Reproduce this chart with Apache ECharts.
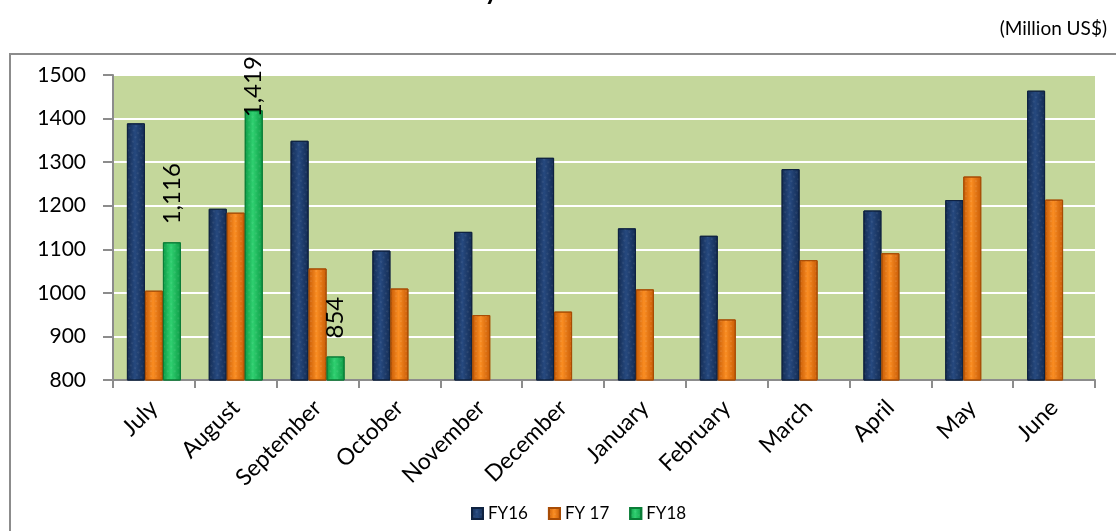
<!DOCTYPE html>
<html>
<head>
<meta charset="utf-8">
<script src="https://cdn.jsdelivr.net/npm/echarts@6/dist/echarts.min.js"></script>
<style>
html,body{margin:0;padding:0;background:#fff;}
#main{width:1116px;height:531px;}
</style>
</head>
<body>
<div id="main"></div>
<script>
const categories = ['July','August','September','October','November','December','January','February','March','April','May','June'];
const fy16 = [1389,1193,1349,1097,1140,1310,1148,1131,1284,1189,1213,1464];
const fy17 = [1005,1184,1056,1010,949,957,1008,939,1075,1091,1267,1214];
const fy18 = [1116,1419,854,null,null,null,null,null,null,null,null,null];
const seriesNames = ['FY16','FY 17','FY18'];
const titleText = "Trend of Monthly Workers' Remittances";
const unitText = '(Million US$)';

const FONT = 'Lato, "Open Sans", sans-serif';

function grad(edge, mid) {
  return new echarts.graphic.LinearGradient(0,0,1,0,[
    {offset:0,color:edge},{offset:0.45,color:mid},{offset:1,color:edge}
  ]);
}
const dec = {symbol:'circle', symbolSize:0.6, color:'rgba(255,255,255,0.28)', dashArrayX:[2,3], dashArrayY:[2,3]};

const chart = echarts.init(document.getElementById('main'));
chart.setOption({
  animation:false,
  aria:{enabled:true, decal:{show:true}},
  title:[
    {text:titleText, left:293, top:-26, textStyle:{fontFamily:FONT, fontSize:26, fontWeight:'bold', color:'#000'}},
    {text:unitText, right:4, top:14, textStyle:{fontFamily:FONT, fontSize:19, fontWeight:'normal', color:'#000'}}
  ],
  graphic:[{type:'rect', shape:{x:10,y:54,width:1130,height:500}, style:{fill:null, stroke:'#8c8c8c', lineWidth:2}, silent:true, z:-1}],
  grid:{left:113, right:21, top:75, bottom:151, show:true, backgroundColor:'#c4d79b', borderWidth:0},
  legend:{
    bottom:4, left:466, itemWidth:11, itemHeight:11, itemGap:20, icon:'rect',
    textStyle:{fontFamily:FONT, fontSize:17, color:'#000'},
    data:seriesNames
  },
  xAxis:{
    type:'category', data:categories,
    axisLine:{lineStyle:{color:'#8c8c8c', width:2}},
    axisTick:{show:true, length:8, lineStyle:{color:'#8c8c8c', width:2}},
    axisLabel:{rotate:45, fontFamily:FONT, fontSize:23, color:'#000', margin:24, interval:0}
  },
  yAxis:{
    type:'value', min:800, max:1500, interval:100,
    axisLine:{show:true, lineStyle:{color:'#8c8c8c', width:2}},
    axisTick:{show:true, length:10, lineStyle:{color:'#8c8c8c', width:2}},
    axisLabel:{fontFamily:FONT, fontSize:21, color:'#000', margin:27, formatter:v=>String(v)},
    splitLine:{lineStyle:{color:'#ffffff', width:2}}
  },
  series:[
    {name:seriesNames[0], type:'bar', data:fy16, barWidth:18, barGap:'0%',
     itemStyle:{color:grad('#132b52','#26497f'), borderColor:'#0f2240', borderWidth:1, decal:dec}},
    {name:seriesNames[1], type:'bar', data:fy17, barWidth:18, barGap:'0%',
     itemStyle:{color:grad('#c75b06','#fa8d22'), borderColor:'#a84c05', borderWidth:1, decal:dec}},
    {name:seriesNames[2], type:'bar', data:fy18.map((v,i)=> i===1 ? {value:v, label:{distance:-7}} : v), barWidth:18, barGap:'0%',
     itemStyle:{color:grad('#0d9a45','#2fd070'), borderColor:'#0a7d37', borderWidth:1, decal:dec},
     label:{show:true, position:'top', rotate:90, align:'left', verticalAlign:'middle', distance:18,
       fontFamily:FONT, fontSize:24, color:'#000',
       formatter:p=> p.value==null ? '' : Number(p.value).toLocaleString('en-US')}}
  ]
});
</script>
</body>
</html>
